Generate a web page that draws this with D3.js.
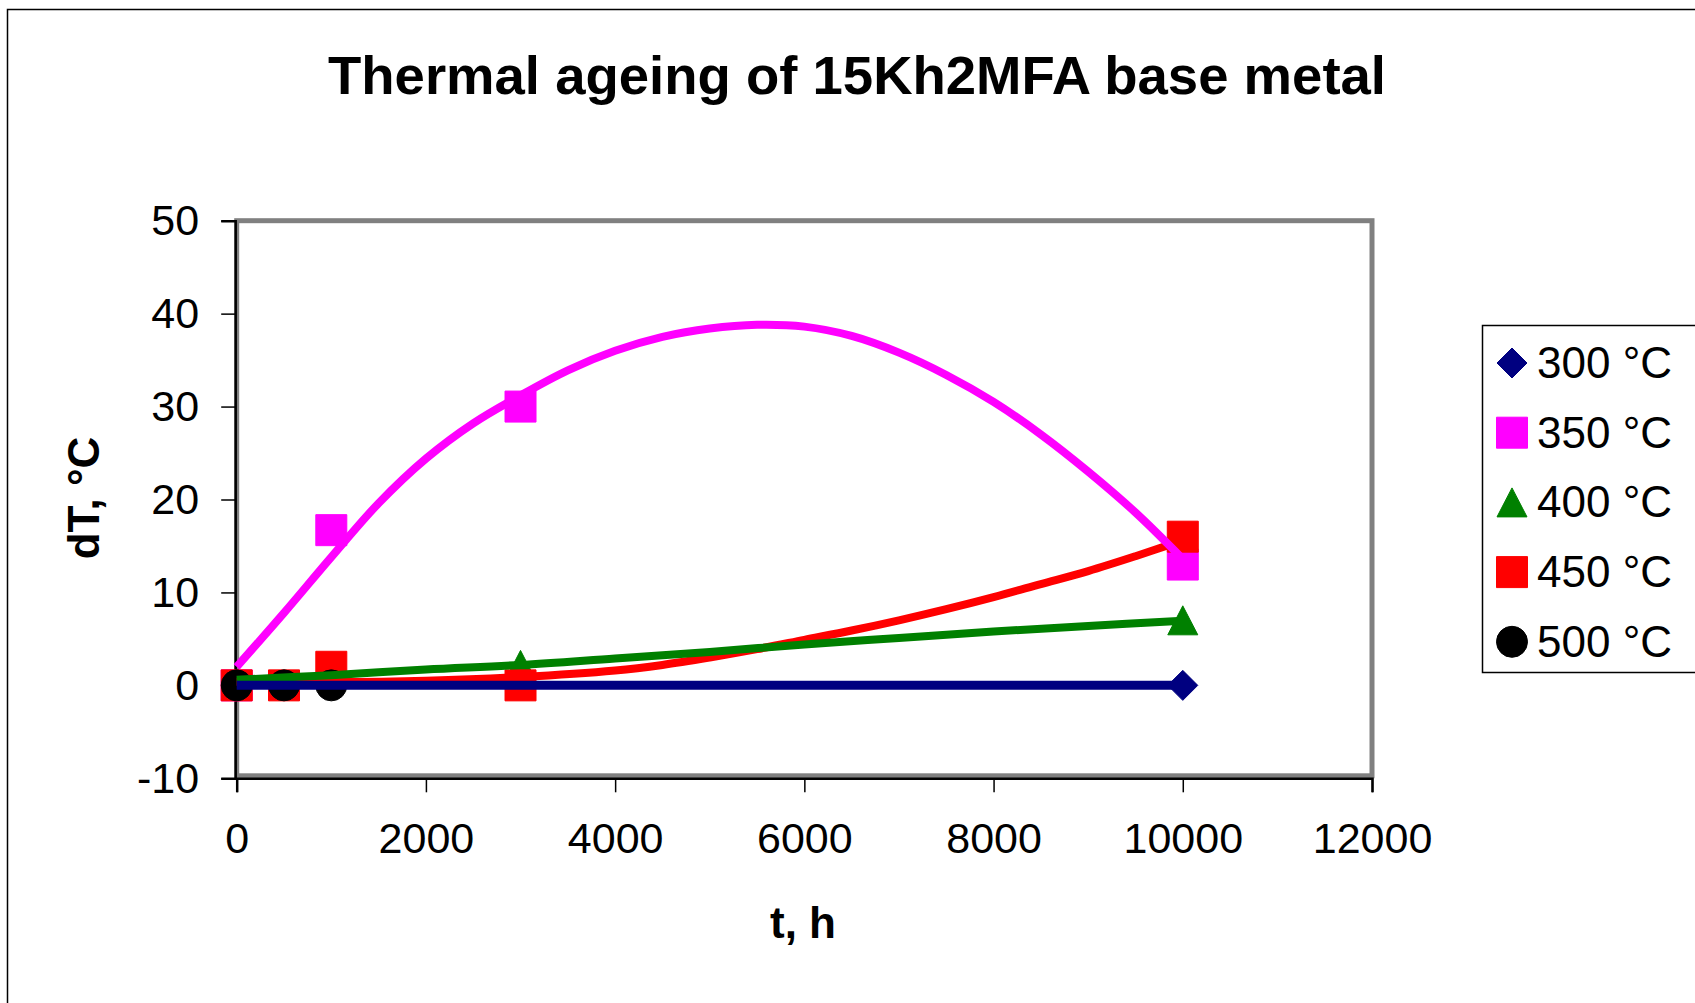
<!DOCTYPE html>
<html><head><meta charset="utf-8">
<script src="https://cdn.jsdelivr.net/npm/d3@7"></script>
<style>
body{margin:0;background:#fff}
svg{display:block}
text{font-family:"Liberation Sans",Arial,Helvetica,sans-serif;fill:#000}
</style>
</head><body>
<svg id="chart" width="1695" height="1003"></svg>
<script>
// ---------- data ----------
const titleText = "Thermal ageing of 15Kh2MFA base metal";
const xLabel = "t, h";
const yLabel = "dT, °C";
const xTicks = [0, 2000, 4000, 6000, 8000, 10000, 12000];
const yTicks = [-10, 0, 10, 20, 30, 40, 50];

const seriesNames  = ["300 °C", "350 °C", "400 °C", "450 °C", "500 °C"];
const seriesColors = ["#000080", "#FF00FF", "#008000", "#FF0000", "#000000"];
const seriesShapes = ["diamond", "square", "triangle", "square", "circle"];

// measured points [t, dT]
const points300 = [[0, 0], [10000, 0]];
const points350 = [[0, 0], [1000, 16.7], [3000, 30], [10000, 13]];
const points400 = [[0, 0], [3000, 2.2], [10000, 7]];
const points450 = [[0, 0], [500, 0], [1000, 2], [3000, 0], [10000, 16]];
const points500 = [[0, 0], [500, 0], [1000, 0]];

// trend lines [t, dT]
const trend300 = [[0, 0], [10000, 0]];
const trend350 = [[0, 2.0], [500, 7.8], [1000, 13.8], [1500, 19.6], [2000, 24.4], [2500, 28.2],
  [3000, 31.2], [3500, 33.9], [4000, 36.0], [4500, 37.5], [5000, 38.4], [5500, 38.8],
  [6000, 38.6], [6500, 37.6], [7000, 35.8], [7500, 33.4], [8000, 30.5], [8500, 27.0],
  [9000, 23.0], [9500, 18.6], [10000, 13.6]];
const trend400 = [[0, 0.6], [1000, 1.1], [2000, 1.7], [3000, 2.2], [4000, 2.9], [5000, 3.6],
  [6000, 4.4], [7000, 5.1], [8000, 5.8], [9000, 6.4], [10000, 6.95]];
const trend450 = [[0, 0.4], [1000, 0.35], [2000, 0.5], [3000, 0.9], [4000, 1.6], [4500, 2.2],
  [5000, 3.0], [5500, 3.9], [6000, 4.9], [6500, 5.9], [7000, 7.0], [7500, 8.2], [8000, 9.5],
  [8500, 10.9], [9000, 12.3], [9500, 13.9], [10000, 15.6]];

const seriesPoints = [points300, points350, points400, points450, points500];
const seriesTrends = [trend300, trend350, trend400, trend450, null];

// ---------- layout ----------
const svg = d3.select("#chart");
const x = d3.scaleLinear().domain([0, 12000]).range([236.7, 1372]);
const y = d3.scaleLinear().domain([-10, 50]).range([778.3, 220.7]);

// outer chart border (continues past right/bottom edges)
svg.append("rect").attr("x", 7.5).attr("y", 9.5).attr("width", 1800).attr("height", 1100)
  .attr("fill", "#fff").attr("stroke", "#000").attr("stroke-width", 1.5);

// title
svg.append("text").attr("x", 857).attr("y", 94).attr("text-anchor", "middle")
  .style("font-size", "54.5px").style("font-weight", "bold").text(titleText);

// plot area frame
svg.append("rect").attr("x", x(0)).attr("y", y(50)).attr("width", x(12000) - x(0))
  .attr("height", y(-10) - 2.5 - y(50))
  .attr("fill", "#fff").attr("stroke", "#808080").attr("stroke-width", 5);

// axes
const fmt = d => String(d);
const yAxis = d3.axisLeft(y).tickValues(yTicks).tickSize(14).tickPadding(22).tickFormat(fmt);
const xAxis = d3.axisBottom(x).tickValues(xTicks).tickSize(14).tickPadding(30).tickFormat(fmt);

const gy = svg.append("g").attr("transform", `translate(${x(0) - 1.5},0)`).call(yAxis);
const gx = svg.append("g").attr("transform", `translate(0,${y(-10)})`).call(xAxis);
[gx, gy].forEach(g => {
  g.select(".domain").attr("stroke", "#000").attr("stroke-width", 2.5);
  g.selectAll(".tick line").attr("stroke", "#000").attr("stroke-width", 1.5);
  g.selectAll(".tick text").style("font-size", "43px").attr("fill", "#000");
});
gy.selectAll(".tick text").attr("dy", "0.32em");
gx.selectAll(".tick text").attr("dy", "0.71em");

// axis titles
svg.append("text").attr("x", 803).attr("y", 938).attr("text-anchor", "middle")
  .style("font-size", "44px").style("font-weight", "bold").text(xLabel);
svg.append("text").attr("transform", "translate(99,498) rotate(-90)").attr("text-anchor", "middle")
  .style("font-size", "44px").style("font-weight", "bold").text(yLabel);

// marker shapes
function shapePath(shape) {
  switch (shape) {
    case "diamond": return "M0,-15L15,0L0,15L-15,0Z";
    case "square": return "M-15.5,-15.5H15.5V15.5H-15.5Z";
    case "triangle": return "M0,-14.5L15,14.5L-15,14.5Z";
    case "circle": return d3.symbol(d3.symbolCircle, Math.PI * 15.5 * 15.5)();
  }
}

const plot = svg.append("g");
// markers, in series order
seriesPoints.forEach((pts, i) => {
  plot.append("g").selectAll("path").data(pts).join("path")
    .attr("transform", d => `translate(${x(d[0])},${y(d[1])})`)
    .attr("d", shapePath(seriesShapes[i]))
    .attr("fill", seriesColors[i])
    .attr("stroke", seriesColors[i]).attr("stroke-width", 1)
    .attr("stroke-linejoin", seriesShapes[i] === "square" ? "miter" : "round");
});

// trend lines, drawn last-series first so earlier series sit on top
const line = d3.line().x(d => x(d[0])).y(d => y(d[1])).curve(d3.curveCatmullRom.alpha(0.5));
for (let i = seriesTrends.length - 1; i >= 0; i--) {
  if (!seriesTrends[i]) continue;
  plot.append("path").datum(seriesTrends[i]).attr("d", line)
    .attr("fill", "none").attr("stroke", seriesColors[i])
    .attr("stroke-width", i === 0 ? 9 : 8).attr("stroke-linecap", "butt")
    .attr("stroke-linejoin", "round");
}

// legend
const legend = svg.append("g");
legend.append("rect").attr("x", 1482.5).attr("y", 325.5).attr("width", 400).attr("height", 347)
  .attr("fill", "#fff").attr("stroke", "#000").attr("stroke-width", 1.5);
seriesNames.forEach((name, i) => {
  const cy = 363 + i * 69.7;
  legend.append("path").attr("transform", `translate(1512,${cy})`)
    .attr("d", shapePath(seriesShapes[i]))
    .attr("fill", seriesColors[i]).attr("stroke", seriesColors[i]).attr("stroke-width", 1)
    .attr("stroke-linejoin", seriesShapes[i] === "square" ? "miter" : "round");
  legend.append("text").attr("x", 1537).attr("y", cy + 15)
    .style("font-size", "44px").text(name);
});
</script>
</body></html>
